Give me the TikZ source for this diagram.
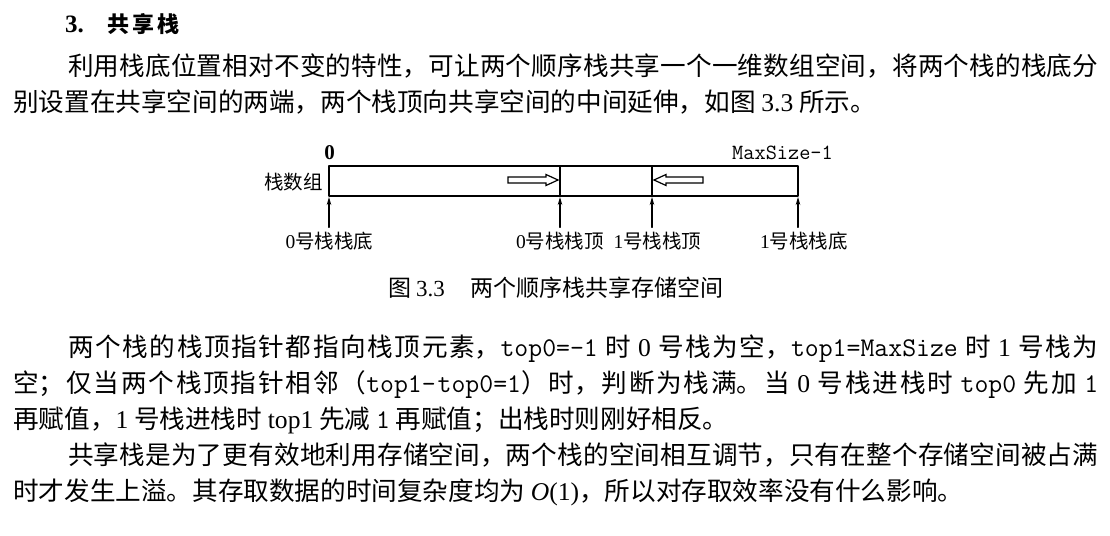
\documentclass[tikz,border=0pt]{standalone}
\usepackage{fontspec}
\setmainfont{Noto Sans CJK SC}
\newfontfamily\tms{Liberation Serif}
\usetikzlibrary{arrows.meta}

% glue between CJK characters, so that full lines can be justified
\XeTeXlinebreaklocale "zh"
\XeTeXlinebreakskip=0pt plus 3pt minus 0.2pt

\newcommand\tcode[1]{{\fontsize{27}{36}\selectfont\ttfamily #1}}
\newcommand\fillend{\parfillskip=0pt\relax\par}

\begin{document}
\begin{tikzpicture}[x=1pt, y=-1pt, line cap=round, line join=round,
  body/.style={anchor=base west, inner sep=0pt, font=\fontsize{25.6}{36}\selectfont},
  fullline/.style={body, text width=#1, align=justify},
  lbl/.style={inner sep=0pt, font=\fontsize{19.5}{19.5}\selectfont},
  hollow/.style={draw, line width=1.2pt, fill=white, line join=miter},
  up/.style={-{Stealth[length=8pt,width=4.5pt]}, line width=1.1pt}]

  \path[fill=white, use as bounding box] (0,0) rectangle (1110,535);

  % heading
  \node[anchor=base west, inner sep=0pt, font=\fontsize{22}{22}\selectfont] (head) at (65,33)
    {{\fontsize{25}{25}\selectfont\tms\bfseries 3.}\hspace{24pt}{\bfseries 共\hspace{3pt}享\hspace{3pt}栈}};

  % first paragraph
  \node[fullline=1030pt] (pa1) at (68,75.7)
    {利用栈底位置相对不变的特性，可让两个顺序栈共享一个一维数组空间，将两个栈的栈底分\fillend};
  \node[body] (pa2) at (13,111.7)
    {别设置在共享空间的两端，两个栈顶向共享空间的中间延伸，如图 {\tms 3.3} 所示。};

  % the shared array
  \draw[line width=1.2pt] (329,166) rectangle (798,196);
  \draw[line width=1.2pt] (560,166) -- (560,196);
  \draw[line width=1.2pt] (652,166) -- (652,196);
  \coordinate (p0) at (329,197);
  \coordinate (p1) at (560,197);
  \coordinate (p2) at (652,197);
  \coordinate (p3) at (798,197);

  \node[lbl, anchor=base] (zero) at (329.5,159.5) {\fontsize{21}{21}\selectfont\tms\bfseries 0};
  \node[lbl, anchor=base east, font=\fontsize{21.7}{21.7}\selectfont\ttfamily] (maxs) at (833,159) {MaxSize-1};
  \node[lbl, anchor=base east] (arr) at (323,189) {栈数组};

  % growth directions
  \draw[hollow] (508,177) -- (546,177) -- (546,174.5) -- (558,180) -- (546,185.5) -- (546,183) -- (508,183) -- cycle;
  \draw[hollow] (654,180) -- (666,174.5) -- (666,177) -- (703,177) -- (703,183) -- (666,183) -- (666,185.5) -- cycle;

  % bottoms and tops
  \node[lbl, anchor=base, inner ysep=4pt] (b0) at (329.5,248) {{\tms 0}号栈栈底};
  \node[lbl, anchor=base, inner ysep=4pt] (t0) at (560,248) {{\tms 0}号栈栈顶};
  \node[lbl, anchor=base, inner ysep=4pt] (t1) at (657.5,248) {{\tms 1}号栈栈顶};
  \node[lbl, anchor=base, inner ysep=4pt] (b1) at (804,248) {{\tms 1}号栈栈底};

  \foreach \n/\p in {b0/p0, t0/p1, t1/p2, b1/p3}{
    \draw[up] (\n.north -| \p) -- (\p);
  }

  \node[anchor=base west, inner sep=0pt, font=\fontsize{23}{23}\selectfont] (cap) at (388,296.6)
    {图\hspace{5pt}{\tms 3.3}\hspace{26pt}两个顺序栈共享存储空间};

  % second paragraph
  \node[fullline=1030pt] (pb1) at (68,356.7)
    {两个栈的栈顶指针都指向栈顶元素，\tcode{top0=-1} 时 {\tms 0} 号栈为空，\tcode{top1=MaxSize} 时 {\tms 1} 号栈为\fillend};
  \node[fullline=1085pt] (pb2) at (13,392.4)
    {空；仅当两个栈顶指针相邻（\tcode{top1-top0=1}）时，判断为栈满。当 {\tms 0} 号栈进栈时 \tcode{top0} 先加 \tcode{1}\fillend};
  \node[body] (pb3) at (13,428.2)
    {再赋值，{\tms 1} 号栈进栈时 {\tms top1} 先减 \tcode{1} 再赋值；出栈时则刚好相反。};

  % third paragraph
  \node[fullline=1030pt] (pc1) at (68,464.2)
    {共享栈是为了更有效地利用存储空间，两个栈的空间相互调节，只有在整个存储空间被占满\fillend};
  \node[body] (pc2) at (13,500.5)
    {时才发生上溢。其存取数据的时间复杂度均为 {\tms\itshape O}{\tms (1)}，所以对存取效率没有什么影响。};

\end{tikzpicture}
\end{document}
